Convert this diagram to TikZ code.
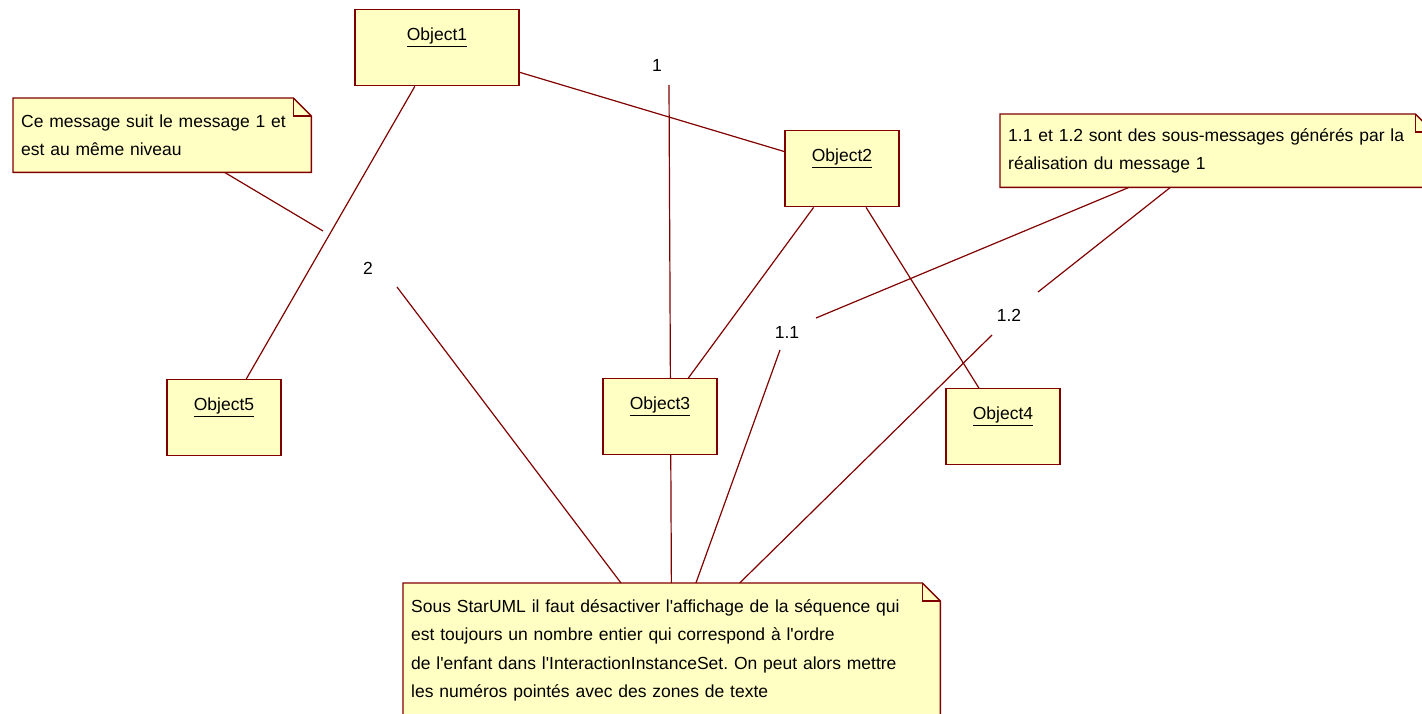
\documentclass[tikz,border=0pt]{standalone}
\usepackage{xcolor}
\usepackage{fontspec}
\setmainfont{Liberation Sans}
\usetikzlibrary{backgrounds}
\definecolor{umlfill}{RGB}{255,255,196}
\definecolor{umledge}{RGB}{128,0,0}
\frenchspacing

\begin{document}
\begin{tikzpicture}[x=1pt, y=-1pt, every node/.style={font=\fontsize{17.5}{28.5}\selectfont},
  objbox/.style={draw=umledge, fill=umlfill, line width=1.4pt, anchor=north, minimum width=114pt, inner sep=0pt, text height=31pt, text depth=45pt},
  notebox/.style={anchor=north west, inner xsep=8pt, inner ysep=0pt, align=left},
  link/.style={umledge, line width=1.2pt}]
  \useasboundingbox (0,0) rectangle (1422,714);
  \node[objbox, minimum width=164pt] (object1) at (437,9) {\underline{Object1}};
  \node[objbox] (object2) at (842,130) {\underline{Object2}};
  \node[objbox] (object3) at (660,378) {\underline{Object3}};
  \node[objbox] (object4) at (1003,388) {\underline{Object4}};
  \node[objbox] (object5) at (224,379) {\underline{Object5}};
  \node[notebox, minimum width=298pt, minimum height=74pt, text width=282pt] (note1) at (13,98) {Ce message suit le message 1 et\\est au même niveau};
  \node[notebox, minimum width=433pt, minimum height=73pt, text width=417pt] (note2) at (1000,114) {1.1 et 1.2 sont des sous-messages générés par la\\réalisation du message 1};
  \node[notebox, minimum width=537pt, minimum height=134pt, text width=521pt] (note3) at (403,583) {Sous StarUML il faut désactiver l\textquotesingle affichage de la séquence qui\\est toujours un nombre entier qui correspond à l\textquotesingle ordre\\de l\textquotesingle enfant dans l\textquotesingle InteractionInstanceSet. On peut alors mettre\\les numéros pointés avec des zones de texte};
  \node (seq1) at (657,65) {1};
  \node (seq2) at (368,268) {2};
  \node (seq11) at (787,332) {1.1};
  \node (seq12) at (1009,315) {1.2};
  \coordinate (end1) at (669,85);
  \coordinate (end2a) at (323,231);
  \coordinate (end2b) at (397,287);
  \coordinate (end11a) at (816,318);
  \coordinate (end11b) at (780,350);
  \coordinate (end12a) at (1038,292);
  \coordinate (end12b) at (992,335);
  \begin{scope}[on background layer]
    \foreach \n in {note1,note2,note3} {
      \filldraw[draw=umledge, fill=umlfill, line width=1.4pt] (\n.north west) -- ([xshift=-18pt]\n.north east) -- ([yshift=-18pt]\n.north east) -- (\n.south east) -- (\n.south west) -- cycle;
      \draw[umledge, line width=1.4pt] ([xshift=-18pt]\n.north east) |- ([yshift=-18pt]\n.north east);
    }
    \draw[link] (object1) -- (object2);
    \draw[link] (object1) -- (object5);
    \draw[link] (object2) -- (object3);
    \draw[link] (object2) -- (object4);
    \draw[link] (end1) -- (note3);
    \draw[link] (end2b) -- (note3);
    \draw[link] (end11b) -- (note3);
    \draw[link] (end12b) -- (note3);
    \draw[link] (note1) -- (end2a);
    \draw[link] (note2) -- (end11a);
    \draw[link] (note2) -- (end12a);
  \end{scope}
\end{tikzpicture}
\end{document}
